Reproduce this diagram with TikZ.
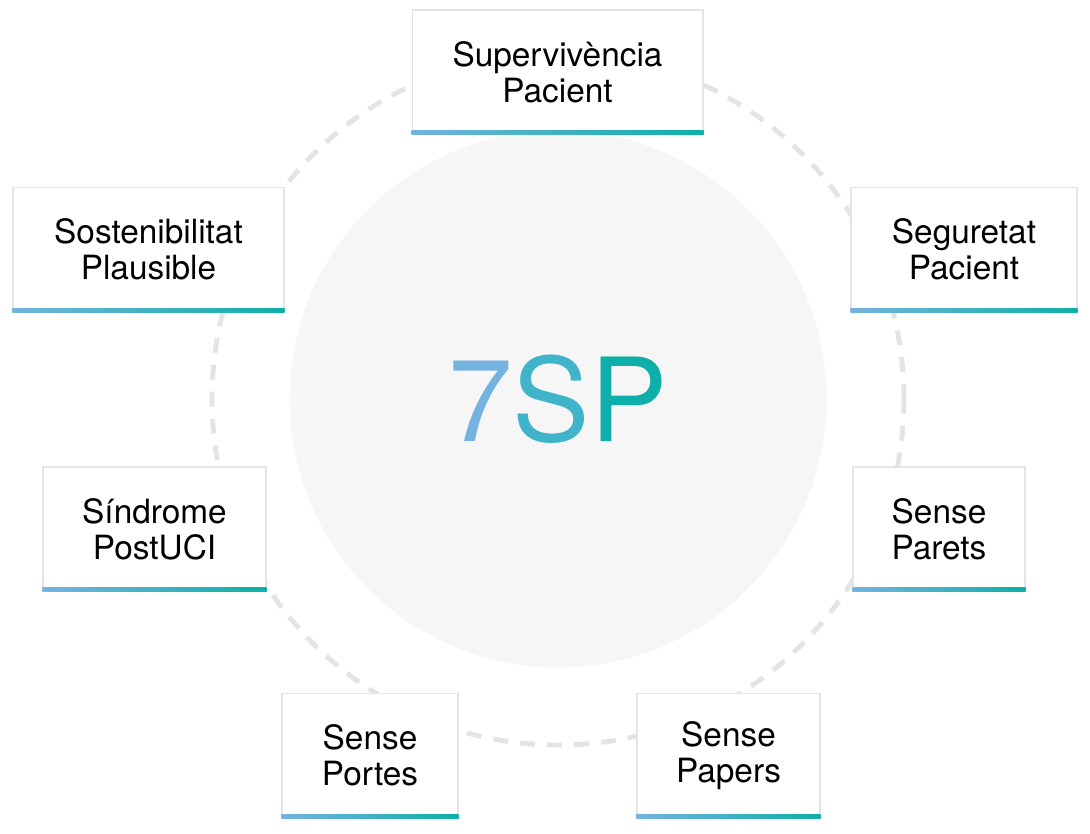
\documentclass[tikz,border=0pt]{standalone}
\usepackage{fontspec}
\setmainfont{TeX Gyre Heros}
\usepackage{tikz}

\definecolor{spblue}{RGB}{116, 179, 223}
\definecolor{spmid}{RGB}{64, 181, 201}
\definecolor{spteal}{RGB}{14, 175, 168}
\definecolor{spring}{RGB}{228, 228, 228}
\definecolor{spdisc}{RGB}{246, 246, 246}
\definecolor{spedge}{RGB}{228, 228, 228}

\begin{document}
\begin{tikzpicture}[
    x=0.02cm, y=-0.02cm,
    pillar/.style={draw=spedge, fill=white, line width=0.6pt, align=center, minimum height=2.48cm,
      inner sep=0pt, font=\fontsize{19}{20.5}\selectfont},
    ring/.style={draw=spring, line width=2.8pt, dash pattern=on 0.3cm off 0.24cm},
    bar/.style={left color=spblue, right color=spteal}
  ]
    \useasboundingbox (0,0) rectangle (1090,834);

    % Dashed ring and centre disc
    \draw[ring] (558,399) circle (346*0.02cm);
    \node[circle, fill=spdisc, minimum size=10.74cm, inner sep=0pt] (disc) at (558,399) {};
    \node[font=\fontsize{66}{66}\selectfont] (title) at (disc.center)
      {\textcolor{spblue}{7}\textcolor{spmid}{S}\textcolor{spteal}{P}};

    % The seven pillars
    \node[pillar, minimum width=5.82cm] (surv) at (557.5,72) {Supervivència\\Pacient};
    \node[pillar, minimum width=5.42cm] (sost) at (148.5,249.5) {Sostenibilitat\\Plausible};
    \node[pillar, minimum width=4.52cm] (segu) at (964,249.5) {Seguretat\\Pacient};
    \node[pillar, minimum width=4.46cm] (sind) at (154.5,529) {Síndrome\\PostUCI};
    \node[pillar, minimum width=3.44cm] (pare) at (939,529) {Sense\\Parets};
    \node[pillar, minimum width=3.52cm] (port) at (370,755.5) {Sense\\Portes};
    \node[pillar, minimum width=3.66cm] (pape) at (728.5,755.5) {Sense\\Papers};

    % Gradient bars under each box
    \foreach \b in {surv, sost, segu, sind, pare, port, pape}
      \shade[bar] (\b.south west) rectangle ([yshift=0.08cm]\b.south east);
  \end{tikzpicture}
\end{document}
